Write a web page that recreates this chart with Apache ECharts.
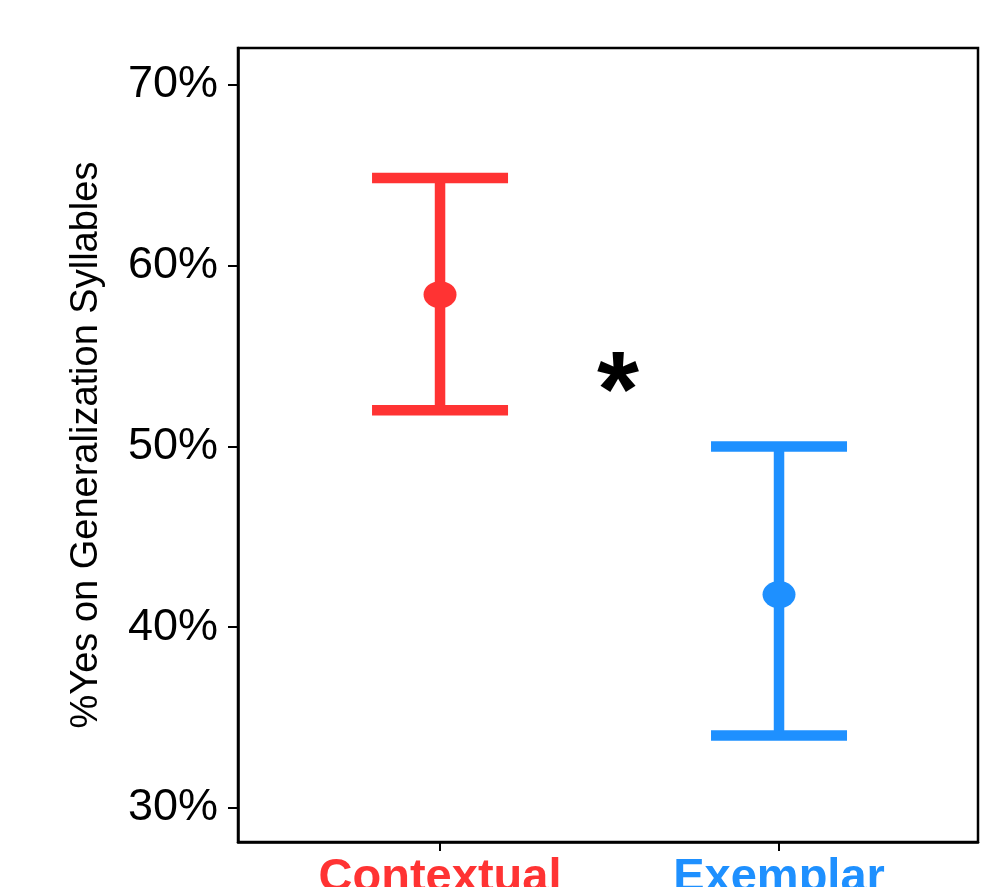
<!DOCTYPE html>
<html>
<head>
<meta charset="utf-8">
<script src="https://cdn.jsdelivr.net/npm/echarts@6/dist/echarts.min.js"></script>
<style>
html,body{margin:0;padding:0;background:#fff;}
#chart{width:981px;height:887px;}
</style>
</head>
<body>
<div id="chart"></div>
<script>
// ---- data ----
const categories = ['Contextual', 'Exemplar'];
const categoryColors = ['#FF3333', '#1E90FF'];
const means = [58.4, 41.8];
const lowers = [52.0, 34.0];
const uppers = [64.85, 50.0];
const yTicks = [30, 40, 50, 60, 70];
const annotationX = [0.525];
const annotationY = [52.8];
const annotationText = ['*'];

const chart = echarts.init(document.getElementById('chart'), null, {renderer: 'canvas'});

const catPos = categories.map((c, i) => i);
const errData = categories.map((c, i) => [catPos[i], lowers[i], uppers[i], i]);
const meanData = categories.map((c, i) => ({
  value: [catPos[i], means[i]],
  itemStyle: {color: categoryColors[i], opacity: 1}
}));

const option = {
  animation: false,
  backgroundColor: '#ffffff',
  grid: {left: 238, right: 3, top: 48, bottom: 45, show: true, containLabel: false,
         outerBoundsMode: 'none',
         borderColor: '#000', borderWidth: 2.5, backgroundColor: 'transparent'},
  xAxis: {
    type: 'value', min: -0.596, max: 1.587,
    splitLine: {show: false},
    axisLine: {show: true, onZero: false, lineStyle: {color: '#000', width: 2.5}},
    axisTick: {show: true, length: 9, lineStyle: {color: '#000', width: 2}, customValues: catPos},
    axisLabel: {
      customValues: catPos,
      margin: 13,
      formatter: function (v) {
        const i = Math.round(v);
        return '{c' + i + '|' + categories[i] + '}';
      },
      rich: {
        c0: {color: categoryColors[0], fontSize: 47, fontWeight: 'bold', fontFamily: 'Liberation Sans'},
        c1: {color: categoryColors[1], fontSize: 47, fontWeight: 'bold', fontFamily: 'Liberation Sans'}
      }
    }
  },
  yAxis: {
    type: 'value', min: 28.11, max: 72.05,
    splitLine: {show: false},
    name: '%Yes on Generalization Syllables',
    nameLocation: 'middle',
    nameGap: 132,
    nameTextStyle: {fontSize: 38, color: '#000', fontFamily: 'Liberation Sans'},
    axisLine: {show: true, onZero: false, lineStyle: {color: '#000', width: 2.5}},
    axisTick: {show: true, length: 10, lineStyle: {color: '#000', width: 2}, customValues: yTicks},
    axisLabel: {
      customValues: yTicks,
      margin: 20,
      fontSize: 45,
      color: '#000',
      fontFamily: 'Liberation Sans',
      formatter: v => v + '%'
    }
  },
  series: [
    {
      type: 'custom',
      data: errData,
      renderItem: function (params, api) {
        const x = api.value(0);
        const lo = api.coord([x, api.value(1)]);
        const hi = api.coord([x, api.value(2)]);
        const color = categoryColors[api.value(3)];
        const half = 68;
        const style = {stroke: color, lineWidth: 10.5};
        return {
          type: 'group',
          children: [
            {type: 'line', shape: {x1: lo[0], y1: lo[1], x2: hi[0], y2: hi[1]}, style: style},
            {type: 'line', shape: {x1: lo[0] - half, y1: lo[1], x2: lo[0] + half, y2: lo[1]}, style: style},
            {type: 'line', shape: {x1: hi[0] - half, y1: hi[1], x2: hi[0] + half, y2: hi[1]}, style: style}
          ]
        };
      },
      z: 2
    },
    {
      type: 'scatter',
      data: meanData,
      symbol: 'circle',
      symbolSize: [33, 27],
      itemStyle: {opacity: 1},
      z: 3
    },
    {
      type: 'scatter',
      data: annotationX.map((x, i) => [x, annotationY[i], annotationText[i]]),
      symbolSize: 1,
      itemStyle: {color: 'rgba(0,0,0,0)', opacity: 1},
      label: {
        show: true,
        position: 'inside',
        formatter: p => p.value[2],
        fontSize: 108,
        fontWeight: 'bold',
        fontFamily: 'Liberation Sans',
        color: '#000',
        opacity: 1
      },
      z: 4
    }
  ]
};
chart.setOption(option);
</script>
</body>
</html>
